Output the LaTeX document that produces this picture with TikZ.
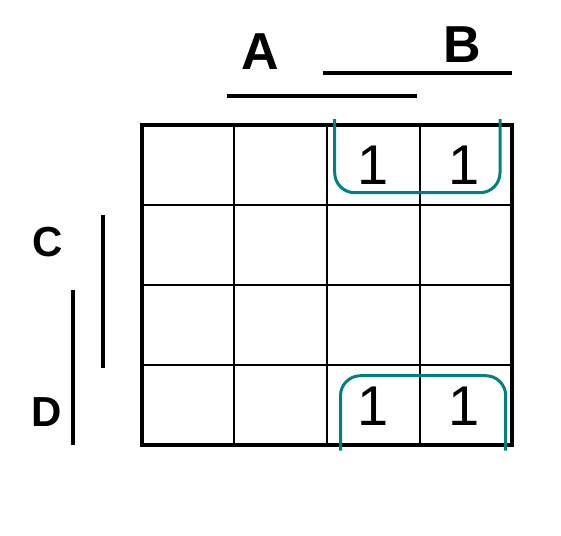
\documentclass[tikz,border=0pt]{standalone}
\usepackage{fontspec}
\setmainfont{Liberation Sans}
\usepackage{xcolor}
\usetikzlibrary{positioning}
\definecolor{loopteal}{RGB}{0,128,128}
\tikzstyle{bigvar} = [font=\fontsize{52}{52}\selectfont\bfseries, inner sep=0pt]
\tikzstyle{smallvar} = [font=\fontsize{42}{42}\selectfont\bfseries, inner sep=0pt]
\tikzstyle{one} = [font=\fontsize{56}{56}\selectfont, inner sep=0pt]
\tikzstyle{bar} = [line width=4pt]
\tikzstyle{group} = [line width=3pt, draw=loopteal, rounded corners=20pt]

\begin{document}
\begin{tikzpicture}[x=1pt, y=-1pt]
\useasboundingbox (0,0) rectangle (561,535);

% Grid
\foreach \i in {1,2,3} {
    \draw[line width=2pt] (141.5+\i*92.75,125) -- (141.5+\i*92.75,445);
    \draw[line width=2pt] (141.5,125+\i*80) -- (512,125+\i*80);
}
\draw[line width=4pt] (141.5,125) rectangle (512,445);

% Variable labels
\node[bigvar] (A) at (260,52) {A};
\node[bigvar] (B) at (462,45) {B};
\node[smallvar] (C) at (48,242) {C};
\node[smallvar] (D) at (47,412) {D};

% Variable bars
\coordinate (a1) at (227,96);
\coordinate (a2) at (417,96);
\coordinate (b1) at (323,72.5);
\coordinate (b2) at (512,72.5);
\coordinate (c1) at (103.3,215);
\coordinate (c2) at (103.3,368);
\coordinate (d1) at (73.3,290);
\coordinate (d2) at (73.3,445);
\draw[bar] (a1) -- (a2);
\draw[bar] (b1) -- (b2);
\draw[bar] (c1) -- (c2);
\draw[bar] (d1) -- (d2);

% Ones
\node[one] (m2) at (372.7,165.5) {1};
\node[one] (m3) at (464.5,165.5) {1};
\node[one] (m10) at (372.7,406) {1};
\node[one] (m11) at (464.5,406) {1};

% Groups
\draw[group] (334.7,119) -- (334.7,192.7) -- (500,192.7) -- (500,119);
\draw[group] (340.5,450.5) -- (340.5,375.7) -- (505.7,375.7) -- (505.7,450.5);

\end{tikzpicture}
\end{document}
